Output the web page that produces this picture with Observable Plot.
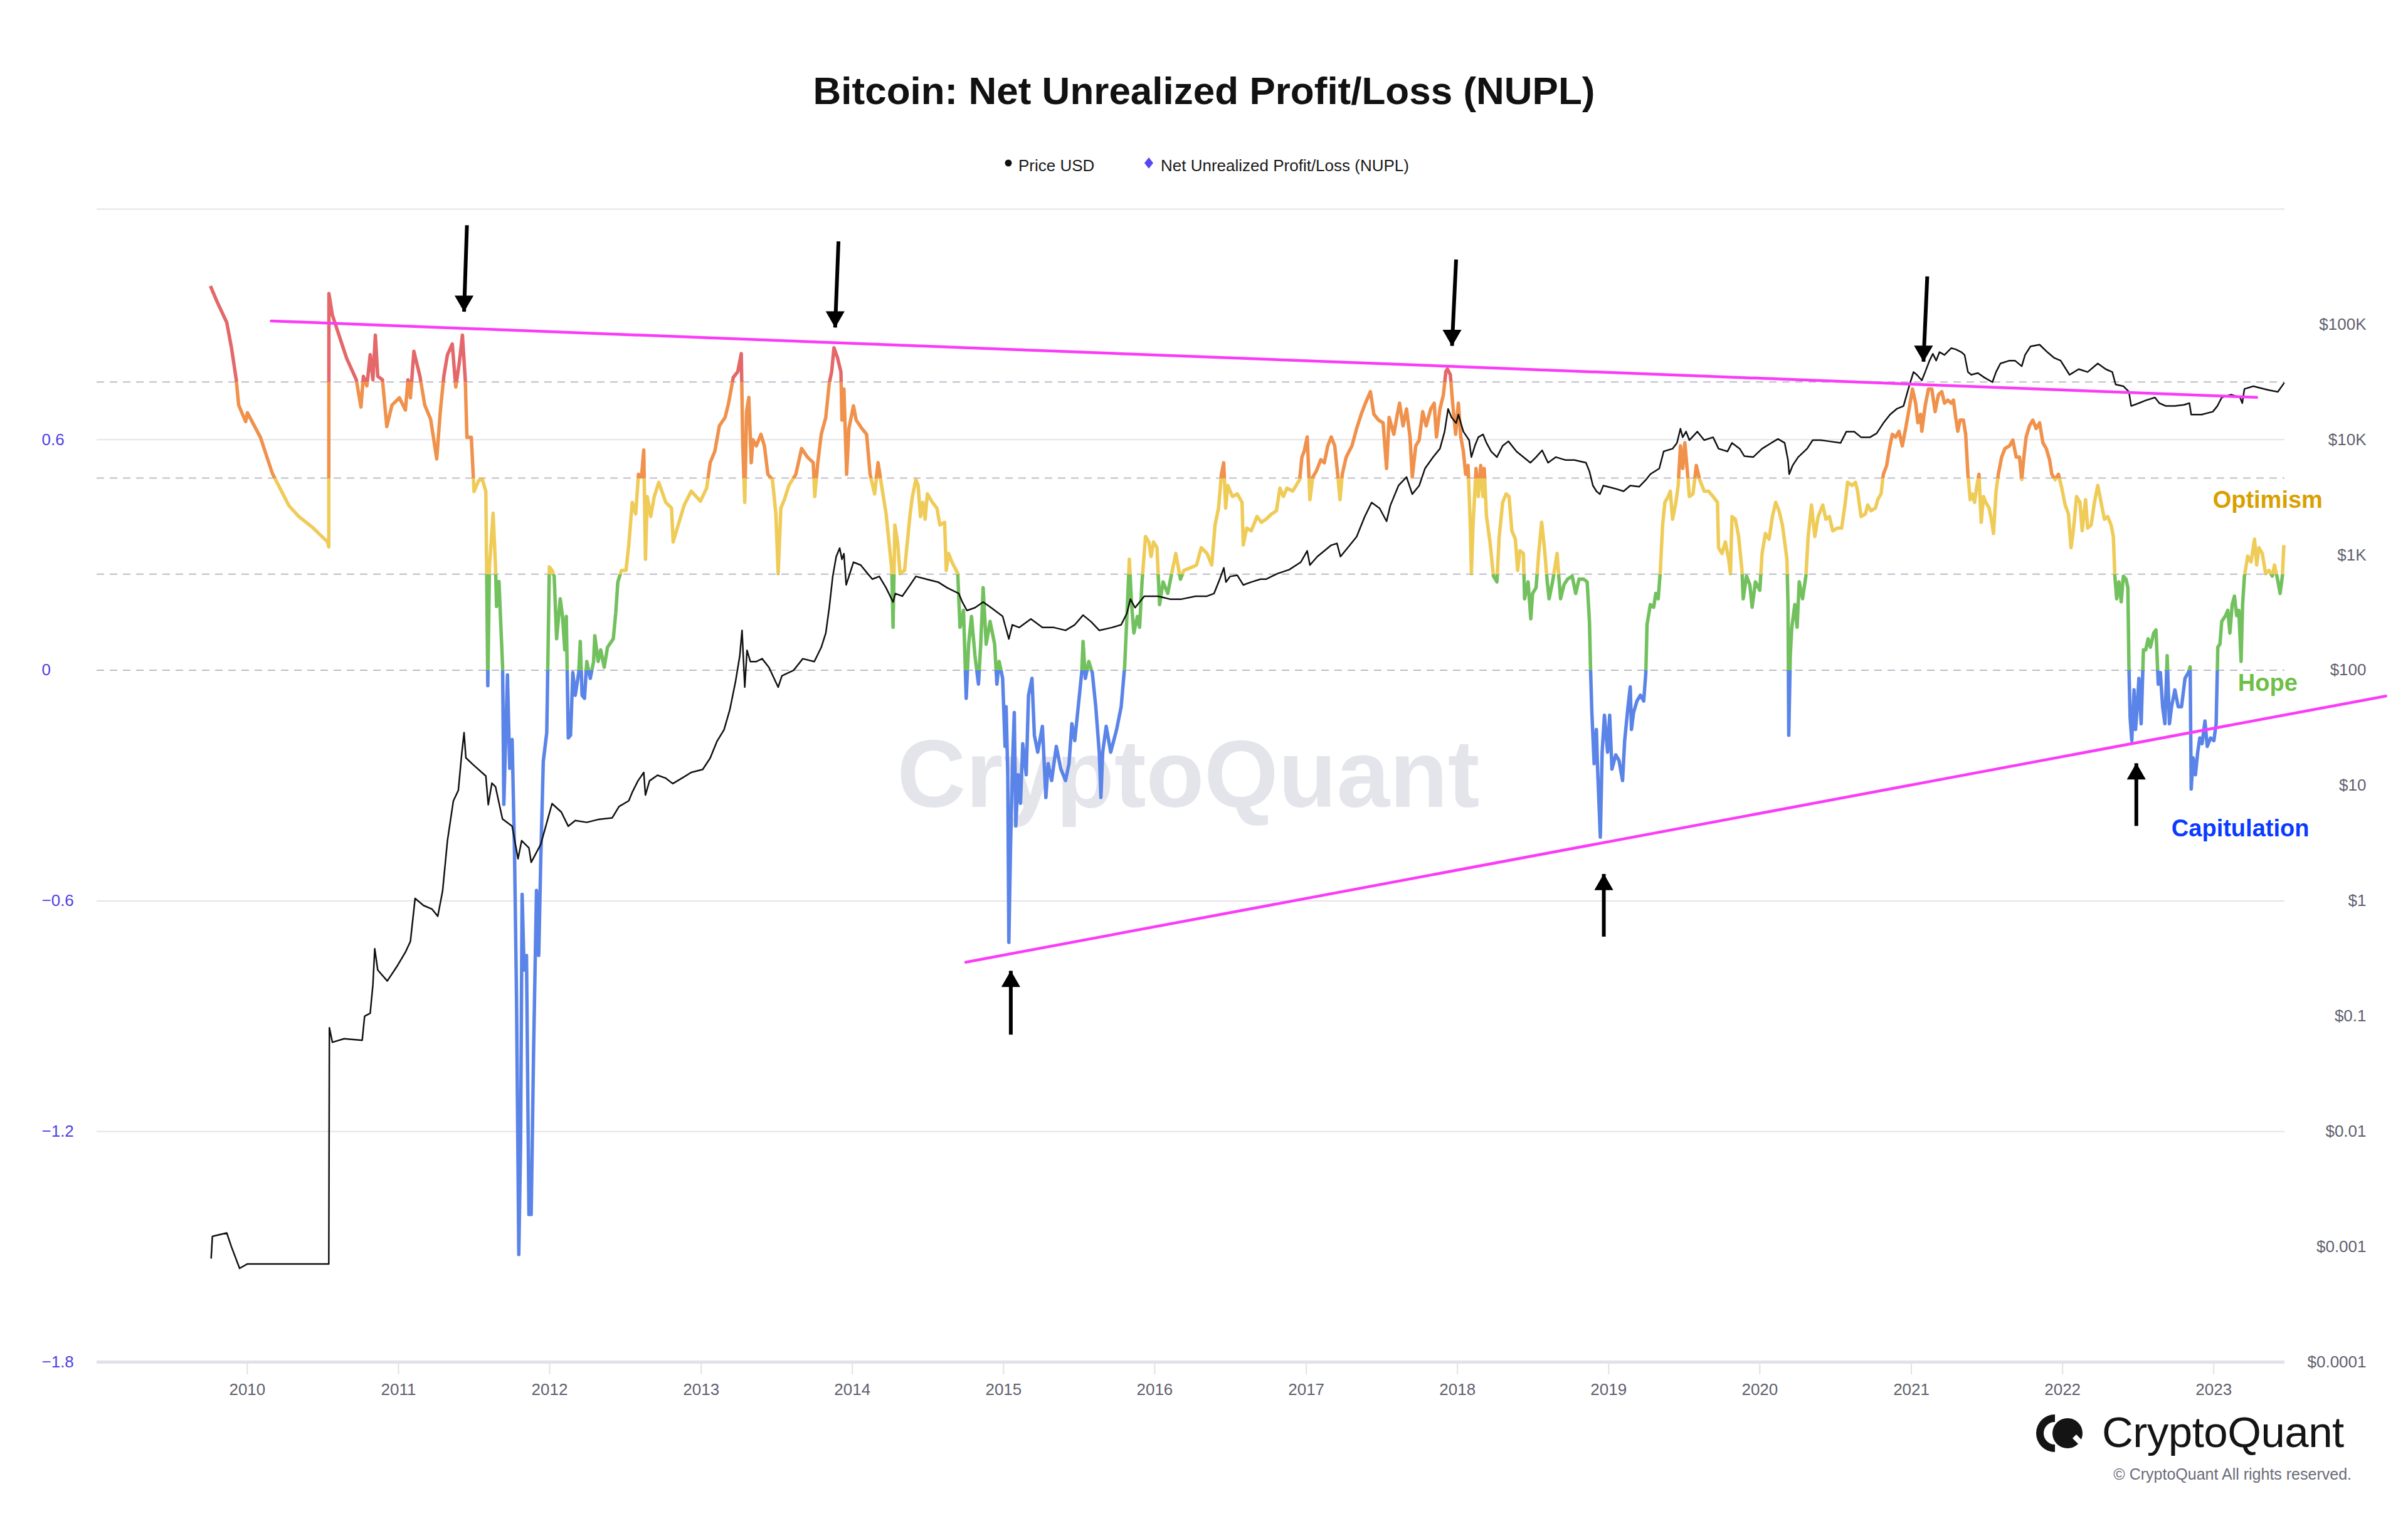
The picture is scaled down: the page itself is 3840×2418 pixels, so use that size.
<!DOCTYPE html>
<html>
<head>
<meta charset="utf-8">
<script src="https://cdn.jsdelivr.net/npm/d3@7"></script>
<script src="https://cdn.jsdelivr.net/npm/@observablehq/plot@0.6"></script>
<style>
html,body{margin:0;padding:0;background:#fff;}
#page{position:relative;width:3840px;height:2418px;overflow:hidden;font-family:"Liberation Sans",Arial,Helvetica,sans-serif;background:#fff;}
#header{position:relative;width:3840px;height:300px;}
#title{position:absolute;left:0;width:3840px;top:114px;text-align:center;font-size:62px;font-weight:700;color:#111;line-height:62px;white-space:nowrap;}
.leg{position:absolute;top:251px;font-size:26px;line-height:26px;color:#1a1a1a;white-space:nowrap;}
.mk{position:absolute;display:block;}
.mk svg{display:block;}
#chart svg{display:block;}
#logo{position:absolute;left:3247px;top:2254px;}
#logotext{position:absolute;left:3352px;top:2245px;font-size:69px;line-height:80px;color:#141414;font-weight:500;letter-spacing:-0.5px;}
#copy{position:absolute;right:90px;top:2338px;font-size:25px;line-height:26px;color:#6b6b78;}
</style>
</head>
<body>
<div id="page">
  <div id="header">
    <title></title>
    <div id="title"></div>
    <span class="mk" style="left:1602px;top:254px;"><svg width="12" height="12"><circle cx="6" cy="6" r="5.5" fill="#111"/></svg></span>
    <span class="leg" id="leg1" style="left:1624px;"></span>
    <span class="mk" style="left:1825px;top:251px;"><svg width="14" height="18"><path d="M7,0 L14,9 L7,18 L0,9 Z" fill="#5a45f0"/></svg></span>
    <span class="leg" id="leg2" style="left:1851px;"></span>
  </div>
  <div id="chart"></div>
  <svg id="logo" width="80" height="64" viewBox="0 0 80 64">
    <path d="M30,2 A30,30 0 0 0 30,62 L30,50 A18,18 0 0 1 30,14 Z" fill="#141414"/>
    <circle cx="50" cy="32" r="24" fill="#141414"/>
    <path d="M58,40 L76,58 L80,50 L64,34 Z" fill="#fff"/>
  </svg>
  <div id="logotext">CryptoQuant</div>
  <div id="copy">© CryptoQuant All rights reserved.</div>
</div>
<script>
// ---------- text ----------
const titleText = "Bitcoin: Net Unrealized Profit/Loss (NUPL)";
const legendLabels = ["Price USD", "Net Unrealized Profit/Loss (NUPL)"];
const watermarkText = ["CryptoQuant"];

// ---------- NUPL series: [decimal year, NUPL] ----------
const nuplSeries = [
[2009.756,1.00],[2009.799,0.96],[2009.864,0.905],[2009.895,0.84],[2009.927,0.756],[2009.943,0.69],[2009.989,0.647],[2010.001,0.67],[2010.087,0.606],[2010.166,0.512],[2010.276,0.428],[2010.341,0.40],[2010.431,0.372],[2010.531,0.334],[2010.539,0.321],[2010.54,0.98],[2010.563,0.924],[2010.61,0.868],[2010.657,0.812],[2010.721,0.756],[2010.752,0.685],[2010.768,0.765],[2010.791,0.74],[2010.813,0.821],[2010.831,0.756],[2010.847,0.872],[2010.863,0.765],[2010.894,0.756],[2010.923,0.634],[2010.957,0.69],
[2011.006,0.709],[2011.046,0.677],[2011.063,0.756],[2011.079,0.709],[2011.102,0.83],[2011.142,0.765],[2011.174,0.69],[2011.213,0.653],[2011.253,0.55],[2011.276,0.67],[2011.30,0.765],[2011.324,0.821],[2011.356,0.849],[2011.379,0.737],[2011.403,0.802],[2011.423,0.872],[2011.442,0.756],[2011.453,0.606],[2011.482,0.606],[2011.50,0.465],[2011.531,0.494],[2011.555,0.497],[2011.578,0.465],[2011.591,-0.04],[2011.602,0.269],[2011.626,0.409],[2011.642,0.269],[2011.649,0.166],[2011.665,0.231],[2011.689,0.007],[2011.697,-0.349],[2011.721,-0.012],[2011.736,-0.255],[2011.752,-0.18],[2011.768,-0.48],[2011.781,-0.854],[2011.796,-1.52],[2011.808,-1.23],[2011.818,-0.583],[2011.831,-0.78],[2011.847,-0.742],[2011.863,-1.416],[2011.878,-1.416],[2011.894,-0.985],[2011.913,-0.573],[2011.928,-0.742],[2011.941,-0.498],[2011.958,-0.237],[2011.981,-0.162],[2011.998,0.269],
[2012.016,0.26],[2012.03,0.245],[2012.046,0.082],[2012.07,0.186],[2012.085,0.14],[2012.10,0.053],[2012.11,0.14],[2012.123,-0.176],[2012.138,-0.169],[2012.153,-0.006],[2012.169,-0.065],[2012.192,-0.006],[2012.202,0.075],[2012.214,-0.065],[2012.23,-0.073],[2012.245,0.023],[2012.268,-0.021],[2012.29,0.023],[2012.298,0.09],[2012.32,0.023],[2012.337,0.053],[2012.36,0.008],[2012.382,0.06],[2012.42,0.082],[2012.436,0.149],[2012.45,0.23],[2012.474,0.26],[2012.504,0.26],[2012.522,0.326],[2012.545,0.437],[2012.568,0.407],[2012.586,0.51],[2012.606,0.503],[2012.621,0.573],[2012.632,0.289],[2012.644,0.452],[2012.667,0.40],[2012.69,0.452],[2012.72,0.489],[2012.766,0.437],[2012.804,0.422],[2012.815,0.334],[2012.842,0.37],[2012.888,0.43],[2012.934,0.466],[2012.995,0.44],
[2013.036,0.474],[2013.059,0.54],[2013.09,0.57],[2013.12,0.636],[2013.158,0.658],[2013.181,0.695],[2013.212,0.762],[2013.242,0.777],[2013.265,0.824],[2013.275,0.584],[2013.288,0.437],[2013.30,0.673],[2013.315,0.71],[2013.331,0.54],[2013.342,0.60],[2013.365,0.584],[2013.395,0.614],[2013.418,0.584],[2013.441,0.51],[2013.471,0.496],[2013.494,0.407],[2013.509,0.252],[2013.527,0.422],[2013.55,0.444],[2013.58,0.481],[2013.626,0.51],[2013.664,0.577],[2013.702,0.555],[2013.741,0.54],[2013.751,0.452],[2013.771,0.54],[2013.794,0.614],[2013.824,0.658],[2013.847,0.747],[2013.863,0.777],[2013.878,0.839],[2013.901,0.814],[2013.924,0.777],[2013.931,0.651],[2013.944,0.732],[2013.962,0.51],[2013.977,0.629],[2014.007,0.688],
[2014.025,0.651],[2014.063,0.629],[2014.094,0.614],[2014.117,0.51],[2014.147,0.459],[2014.17,0.54],[2014.193,0.481],[2014.223,0.407],[2014.246,0.319],[2014.261,0.26],[2014.269,0.112],[2014.281,0.378],[2014.299,0.334],[2014.315,0.252],[2014.345,0.26],[2014.382,0.407],[2014.397,0.452],[2014.42,0.496],[2014.435,0.481],[2014.45,0.40],[2014.466,0.437],[2014.481,0.393],[2014.496,0.459],[2014.529,0.437],[2014.559,0.422],[2014.579,0.378],[2014.61,0.385],[2014.621,0.26],[2014.636,0.304],[2014.658,0.282],[2014.697,0.252],[2014.712,0.112],[2014.735,0.156],[2014.753,-0.073],[2014.769,0.068],[2014.788,0.14],[2014.811,0.038],[2014.834,-0.036],[2014.849,0.068],[2014.865,0.215],[2014.885,0.068],[2014.911,0.127],[2014.941,0.068],[2014.956,-0.036],[2014.971,0.023],[2014.994,-0.021],[2015.01,-0.198],[2015.017,-0.095],
[2015.028,-0.272],[2015.035,-0.708],[2015.046,-0.464],[2015.058,-0.257],[2015.071,-0.11],[2015.081,-0.405],[2015.097,-0.272],[2015.112,-0.346],[2015.127,-0.191],[2015.15,-0.272],[2015.165,-0.065],[2015.188,-0.021],[2015.204,-0.169],[2015.226,-0.213],[2015.257,-0.146],[2015.28,-0.331],[2015.295,-0.243],[2015.318,-0.287],[2015.349,-0.198],[2015.379,-0.257],[2015.41,-0.287],[2015.433,-0.243],[2015.452,-0.139],[2015.471,-0.183],[2015.494,-0.095],[2015.517,-0.006],[2015.526,0.075],[2015.541,-0.021],[2015.564,0.023],[2015.587,-0.006],[2015.61,-0.095],[2015.633,-0.213],[2015.644,-0.331],[2015.656,-0.213],[2015.679,-0.146],[2015.709,-0.213],[2015.748,-0.154],[2015.778,-0.095],[2015.801,0.009],[2015.816,0.14],[2015.832,0.289],[2015.847,0.171],[2015.862,0.097],[2015.885,0.14],[2015.90,0.112],[2015.916,0.23],[2015.939,0.348],[2015.961,0.334],[2015.976,0.296],[2015.992,0.334],[2016.015,0.319],
[2016.032,0.171],[2016.055,0.23],[2016.086,0.20],[2016.116,0.26],[2016.139,0.304],[2016.17,0.237],[2016.192,0.26],[2016.238,0.267],[2016.276,0.274],[2016.307,0.319],[2016.345,0.304],[2016.376,0.274],[2016.398,0.378],[2016.421,0.422],[2016.44,0.51],[2016.455,0.54],[2016.468,0.422],[2016.482,0.481],[2016.513,0.452],[2016.545,0.459],[2016.576,0.437],[2016.584,0.326],[2016.607,0.37],[2016.637,0.363],[2016.675,0.40],[2016.704,0.385],[2016.734,0.393],[2016.772,0.407],[2016.803,0.415],[2016.826,0.474],[2016.849,0.452],[2016.872,0.474],[2016.91,0.466],[2016.956,0.496],[2016.971,0.555],[2016.986,0.57],[2017.006,0.607],[2017.017,0.51],[2017.024,0.444],
[2017.043,0.503],[2017.066,0.518],[2017.096,0.548],[2017.119,0.54],[2017.142,0.584],[2017.165,0.607],[2017.188,0.584],[2017.211,0.496],[2017.223,0.444],[2017.238,0.51],[2017.264,0.555],[2017.302,0.584],[2017.333,0.629],[2017.363,0.666],[2017.391,0.695],[2017.424,0.725],[2017.447,0.666],[2017.478,0.651],[2017.508,0.644],[2017.531,0.525],[2017.548,0.658],[2017.579,0.614],[2017.602,0.666],[2017.617,0.695],[2017.64,0.636],[2017.663,0.68],[2017.686,0.607],[2017.701,0.503],[2017.724,0.584],[2017.747,0.599],[2017.77,0.673],[2017.793,0.636],[2017.823,0.68],[2017.846,0.695],[2017.861,0.607],[2017.884,0.68],[2017.907,0.717],[2017.923,0.777],[2017.933,0.784],[2017.953,0.769],[2017.968,0.695],[2017.988,0.614],[2018.006,0.695],[2018.022,0.607],
[2018.039,0.57],[2018.054,0.51],[2018.07,0.533],[2018.085,0.378],[2018.092,0.252],[2018.103,0.378],[2018.123,0.525],[2018.138,0.452],[2018.154,0.533],[2018.169,0.452],[2018.177,0.525],[2018.192,0.40],[2018.215,0.334],[2018.238,0.245],[2018.261,0.23],[2018.276,0.348],[2018.299,0.437],[2018.322,0.459],[2018.341,0.452],[2018.36,0.363],[2018.383,0.341],[2018.398,0.26],[2018.413,0.311],[2018.436,0.304],[2018.444,0.186],[2018.467,0.23],[2018.485,0.134],[2018.497,0.20],[2018.52,0.215],[2018.537,0.304],[2018.557,0.385],[2018.575,0.319],[2018.594,0.23],[2018.606,0.186],[2018.629,0.23],[2018.644,0.267],[2018.659,0.304],[2018.67,0.245],[2018.682,0.186],[2018.705,0.223],[2018.728,0.237],[2018.759,0.245],[2018.782,0.20],[2018.804,0.237],[2018.835,0.237],[2018.858,0.23],[2018.873,0.127],[2018.881,-0.006],[2018.889,-0.11],[2018.904,-0.243],[2018.919,-0.154],[2018.927,-0.257],[2018.945,-0.434],[2018.957,-0.213],[2018.972,-0.117],[2018.993,-0.213],[2019.007,-0.117],[2019.022,-0.257],
[2019.047,-0.22],[2019.069,-0.235],[2019.092,-0.287],[2019.106,-0.183],[2019.128,-0.095],[2019.143,-0.043],[2019.151,-0.154],[2019.165,-0.11],[2019.187,-0.08],[2019.21,-0.065],[2019.232,-0.08],[2019.246,-0.006],[2019.254,0.119],[2019.276,0.171],[2019.298,0.164],[2019.312,0.20],[2019.328,0.186],[2019.342,0.26],[2019.357,0.378],[2019.372,0.437],[2019.394,0.452],[2019.408,0.466],[2019.423,0.393],[2019.445,0.437],[2019.46,0.481],[2019.475,0.584],[2019.49,0.525],[2019.504,0.592],[2019.519,0.525],[2019.534,0.452],[2019.558,0.459],[2019.58,0.533],[2019.602,0.496],[2019.632,0.466],[2019.661,0.466],[2019.691,0.452],[2019.72,0.437],[2019.727,0.319],[2019.75,0.304],[2019.772,0.334],[2019.794,0.289],[2019.806,0.252],[2019.816,0.40],[2019.838,0.393],[2019.86,0.348],[2019.882,0.26],[2019.89,0.186],[2019.912,0.245],[2019.934,0.223],[2019.949,0.164],[2019.971,0.23],[2020.0,0.208],[2020.015,0.304],[2020.037,0.356],
[2020.061,0.341],[2020.083,0.40],[2020.105,0.437],[2020.127,0.415],[2020.149,0.378],[2020.164,0.334],[2020.179,0.289],[2020.186,0.171],[2020.191,-0.169],[2020.201,0.038],[2020.211,0.112],[2020.231,0.171],[2020.246,0.112],[2020.26,0.23],[2020.282,0.186],[2020.304,0.245],[2020.319,0.348],[2020.341,0.43],[2020.363,0.348],[2020.385,0.40],[2020.415,0.43],[2020.436,0.393],[2020.459,0.40],[2020.481,0.363],[2020.511,0.37],[2020.54,0.37],[2020.564,0.437],[2020.579,0.489],[2020.608,0.481],[2020.631,0.489],[2020.645,0.466],[2020.668,0.40],[2020.697,0.407],[2020.712,0.43],[2020.734,0.415],[2020.763,0.422],[2020.778,0.444],[2020.80,0.459],[2020.815,0.51],[2020.837,0.533],[2020.852,0.57],[2020.874,0.614],[2020.896,0.607],[2020.918,0.622],[2020.94,0.584],[2020.962,0.629],[2020.985,0.68],[2021.007,0.732],[2021.028,0.695],[2021.043,0.644],
[2021.061,0.666],[2021.069,0.622],[2021.091,0.688],[2021.113,0.732],[2021.135,0.732],[2021.157,0.673],[2021.179,0.717],[2021.201,0.725],[2021.219,0.695],[2021.241,0.703],[2021.263,0.695],[2021.278,0.703],[2021.293,0.658],[2021.307,0.622],[2021.322,0.651],[2021.344,0.651],[2021.359,0.614],[2021.374,0.51],[2021.389,0.444],[2021.403,0.459],[2021.418,0.437],[2021.433,0.481],[2021.447,0.51],[2021.462,0.385],[2021.477,0.452],[2021.492,0.437],[2021.514,0.422],[2021.529,0.393],[2021.543,0.356],[2021.56,0.466],[2021.575,0.51],[2021.597,0.555],[2021.619,0.577],[2021.649,0.584],[2021.671,0.599],[2021.693,0.555],[2021.715,0.555],[2021.73,0.496],[2021.744,0.555],[2021.759,0.607],[2021.781,0.636],[2021.803,0.651],[2021.825,0.629],[2021.848,0.644],[2021.87,0.592],[2021.892,0.577],[2021.914,0.548],[2021.929,0.51],[2021.951,0.496],[2021.973,0.51],[2021.995,0.474],[2022.017,0.43],[2022.039,0.407],
[2022.056,0.319],[2022.071,0.363],[2022.093,0.452],[2022.115,0.437],[2022.13,0.363],[2022.152,0.444],[2022.166,0.37],[2022.189,0.378],[2022.211,0.437],[2022.233,0.481],[2022.255,0.437],[2022.277,0.393],[2022.299,0.40],[2022.321,0.378],[2022.336,0.348],[2022.346,0.245],[2022.358,0.186],[2022.373,0.23],[2022.388,0.178],[2022.402,0.245],[2022.42,0.237],[2022.432,0.215],[2022.439,0.009],[2022.447,-0.124],[2022.458,-0.183],[2022.473,-0.051],[2022.483,-0.154],[2022.494,-0.095],[2022.505,-0.021],[2022.52,-0.139],[2022.535,0.053],[2022.55,0.053],[2022.566,0.082],[2022.581,0.06],[2022.603,0.097],[2022.618,0.105],[2022.633,-0.036],[2022.647,-0.006],[2022.662,-0.095],[2022.677,-0.139],[2022.692,0.038],[2022.707,-0.139],[2022.721,-0.095],[2022.743,-0.051],[2022.765,-0.095],[2022.787,-0.095],[2022.81,-0.021],[2022.832,-0.006],[2022.844,0.009],[2022.851,-0.309],[2022.864,-0.228],[2022.879,-0.272],[2022.894,-0.213],[2022.908,-0.176],[2022.923,-0.191],[2022.942,-0.132],[2022.957,-0.198],[2022.979,-0.176],[2023.001,-0.183],[2023.016,-0.139],[2023.027,0.06],[2023.041,0.068],[2023.053,0.127],
[2023.078,0.142],[2023.093,0.156],[2023.107,0.097],[2023.122,0.171],[2023.137,0.193],[2023.152,0.142],[2023.166,0.156],[2023.181,0.023],[2023.191,0.171],[2023.203,0.245],[2023.225,0.297],[2023.247,0.282],[2023.27,0.341],[2023.284,0.274],[2023.299,0.319],[2023.321,0.304],[2023.343,0.252],[2023.365,0.26],[2023.387,0.245],[2023.402,0.274],[2023.422,0.237],[2023.439,0.20],[2023.454,0.245],[2023.464,0.326]
];

// ---------- Price series: [decimal year, price USD] ----------
const priceSeries = [
[2009.761,0.0008],[2009.769,0.00123],[2009.864,0.00132],[2009.895,0.001],[2009.949,0.00065],[2010.001,0.00071],[2010.539,0.00071],[2010.543,0.0794],[2010.563,0.0594],[2010.641,0.0638],[2010.76,0.0617],[2010.776,0.1],[2010.813,0.106],[2010.831,0.188],[2010.843,0.385],[2010.863,0.251],[2010.926,0.202],[2010.989,0.269],
[2011.046,0.359],[2011.079,0.445],[2011.11,1.05],[2011.166,0.912],[2011.221,0.851],[2011.26,0.736],[2011.292,1.22],[2011.324,3.33],[2011.363,7.35],[2011.396,9.1],[2011.418,18.6],[2011.434,28.8],[2011.446,17.4],[2011.496,15.1],[2011.578,12.1],[2011.594,6.82],[2011.618,10.5],[2011.642,9.77],[2011.688,5.13],[2011.752,4.44],[2011.791,2.32],[2011.815,3.33],[2011.863,2.88],[2011.878,2.16],[2011.941,3.09],
[2012.016,6.98],[2012.077,5.89],[2012.123,4.44],[2012.169,4.97],[2012.245,4.8],[2012.32,5.08],[2012.413,5.25],[2012.458,6.59],[2012.522,7.38],[2012.545,8.75],[2012.583,11.0],[2012.621,13.0],[2012.632,8.28],[2012.659,11.0],[2012.712,12.3],[2012.766,11.6],[2012.812,10.4],[2012.873,11.6],[2012.934,13.0],[2013.01,13.8],
[2013.059,17.3],[2013.105,24.3],[2013.151,30.5],[2013.189,45.4],[2013.227,80],[2013.255,133],[2013.27,222],[2013.28,119],[2013.288,71.4],[2013.303,149],[2013.325,119],[2013.365,119],[2013.403,126],[2013.448,106],[2013.509,71.4],[2013.534,89.5],[2013.611,100],[2013.672,126],[2013.748,119],[2013.794,158],[2013.824,210],[2013.847,349],[2013.87,652],[2013.893,968],[2013.916,1148],[2013.931,916],[2013.944,1026],[2013.959,550],[2013.977,652],[2014.007,865],
[2014.055,818],[2014.101,690],[2014.132,617],[2014.178,652],[2014.223,519],[2014.269,391],[2014.284,463],[2014.33,439],[2014.382,550],[2014.42,652],[2014.489,617],[2014.567,582],[2014.628,519],[2014.704,463],[2014.727,391],[2014.758,330],[2014.811,349],[2014.865,391],[2014.918,349],[2014.994,294],
[2015.035,187],[2015.058,248],[2015.104,235],[2015.181,279],[2015.257,235],[2015.333,235],[2015.41,222],[2015.471,248],[2015.526,301],[2015.58,263],[2015.633,222],[2015.717,235],[2015.778,248],[2015.816,312],[2015.839,414],[2015.87,349],[2015.931,439],[2016.022,439],
[2016.101,414],[2016.177,414],[2016.269,439],[2016.345,439],[2016.391,463],[2016.429,617],[2016.456,773],[2016.47,582],[2016.498,652],[2016.545,667],[2016.584,550],[2016.637,582],[2016.698,617],[2016.734,617],[2016.81,690],[2016.887,746],[2016.963,865],[2017.006,1086],[2017.024,818],
[2017.073,968],[2017.165,1216],[2017.203,1259],[2017.226,968],[2017.272,1148],[2017.333,1442],[2017.386,2143],[2017.432,2851],[2017.485,2541],[2017.531,1959],[2017.556,2692],[2017.61,4000],[2017.663,4742],[2017.701,3373],[2017.747,4000],[2017.785,5623],[2017.839,7063],[2017.884,8356],[2017.915,11750],[2017.938,18490],[2017.961,15600],[2017.991,13930],[2018.006,16520],
[2018.039,11750],[2018.077,9908],[2018.092,7063],[2018.115,8851],[2018.138,10500],[2018.169,11120],[2018.192,9376],[2018.223,7907],[2018.261,7063],[2018.299,8851],[2018.337,9683],[2018.39,7907],[2018.436,7063],[2018.482,6310],[2018.52,7063],[2018.56,8091],[2018.599,6310],[2018.651,7063],[2018.713,6668],[2018.774,6668],[2018.85,6310],[2018.873,5309],[2018.896,4000],[2018.919,3573],[2018.942,3373],[2018.965,4000],[2019.037,3784],
[2019.099,3573],[2019.143,4000],[2019.202,3908],[2019.246,4477],[2019.276,5023],[2019.335,5623],[2019.364,7907],[2019.423,8356],[2019.452,9376],[2019.475,12450],[2019.49,10500],[2019.512,11750],[2019.534,9908],[2019.587,11750],[2019.632,9908],[2019.691,10500],[2019.727,8356],[2019.786,7907],[2019.816,9376],[2019.867,8356],[2019.897,7211],[2019.956,7063],[2020.015,8356],
[2020.076,9376],[2020.12,10140],[2020.164,9376],[2020.186,6668],[2020.194,5023],[2020.216,5957],[2020.253,7063],[2020.312,8356],[2020.349,9908],[2020.40,9908],[2020.459,9683],[2020.533,9376],[2020.571,11750],[2020.623,11750],[2020.668,10500],[2020.727,10500],[2020.771,11350],[2020.815,13930],[2020.859,16520],[2020.903,18490],[2020.948,19590],[2020.985,29110],[2021.014,38640],[2021.036,36560],
[2021.069,32660],[2021.091,38640],[2021.12,48530],[2021.142,55590],[2021.164,48530],[2021.186,57540],[2021.219,54330],[2021.263,62230],[2021.293,60810],[2021.33,57540],[2021.352,54330],[2021.374,38640],[2021.396,36560],[2021.44,37840],[2021.484,34510],[2021.536,31550],[2021.56,38640],[2021.589,45810],[2021.649,48530],[2021.685,48530],[2021.73,43350],[2021.752,54330],[2021.788,64420],[2021.848,66680],[2021.899,57540],[2021.943,51400],[2021.987,48530],[2022.046,36560],
[2022.107,40930],[2022.166,38640],[2022.233,45810],[2022.285,40930],[2022.329,38640],[2022.351,30130],[2022.402,29110],[2022.439,26000],[2022.454,19590],[2022.505,20750],[2022.55,21930],[2022.611,23230],[2022.64,20750],[2022.684,19590],[2022.743,19590],[2022.802,20050],[2022.839,20750],[2022.851,16520],[2022.92,16520],[2022.994,17500],[2023.024,19590],[2023.053,23230],
[2023.115,24600],[2023.174,23230],[2023.189,20750],[2023.203,27540],[2023.262,29110],[2023.306,28120],[2023.365,26920],[2023.424,26000],[2023.464,30830]
];

// ---------- axes ----------
const xDomainYears = [2009.005, 2023.470];
const xTickYears = [2010,2011,2012,2013,2014,2015,2016,2017,2018,2019,2020,2021,2022,2023];
const nuplDomain = [-1.8, 1.2];
const nuplTicks = [0.6, 0, -0.6, -1.2, -1.8];
const gridSolid = [1.2, 0.6, -0.6, -1.2];
const zoneThresholds = [0.75, 0.5, 0.25, 0];
const zoneColors = ["#E4676A", "#F0914C", "#EFCB58", "#72C15E", "#5B84E8"];
const priceTicks = [0.0001, 0.001, 0.01, 0.1, 1, 10, 100, 1000, 10000, 100000];
const priceTickLabels = ["$0.0001","$0.001","$0.01","$0.1","$1","$10","$100","$1K","$10K","$100K"];
const priceLogMin = -4;      // $0.0001 sits on the NUPL axis minimum
const nuplPerDecade = 0.3;   // one price decade = 0.3 NUPL units

// ---------- annotations ----------
const trendTop = [[2010.158, 0.909], [2023.284, 0.71]];
const trendBottom = [[2014.75, -0.7595], [2024.138, -0.067]];
const arrowsDown = [
  {x1: 2011.453, y1: 1.158, x2: 2011.434, y2: 0.933},
  {x1: 2013.908, y1: 1.116, x2: 2013.886, y2: 0.892},
  {x1: 2017.991, y1: 1.069, x2: 2017.964, y2: 0.844},
  {x1: 2021.105, y1: 1.025, x2: 2021.080, y2: 0.803}
];
const arrowsUp = [
  {x1: 2015.048, y1: -0.948, x2: 2015.048, y2: -0.782},
  {x1: 2018.968, y1: -0.693, x2: 2018.968, y2: -0.530},
  {x1: 2022.488, y1: -0.405, x2: 2022.488, y2: -0.242}
];
const zoneLabels = [
  {year: 2023.357, value: 0.442, label: "Optimism", color: "#D9A000"},
  {year: 2023.357, value: -0.034, label: "Hope", color: "#6DBF45"},
  {year: 2023.176, value: -0.413, label: "Capitulation", color: "#0A3BFF"}
];

// ---------- helpers ----------
function yd(fy) {
  const y = Math.floor(fy);
  const t0 = Date.UTC(y, 0, 1), t1 = Date.UTC(y + 1, 0, 1);
  return new Date(t0 + (fy - y) * (t1 - t0));
}
const priceToY = p => nuplDomain[0] + (Math.log10(p) - priceLogMin) * nuplPerDecade;
const priceLabelByY = new Map(priceTicks.map((p, i) => [priceToY(p).toFixed(6), priceTickLabels[i]]));

document.title = titleText;
document.getElementById("title").textContent = titleText;
document.getElementById("leg1").textContent = legendLabels[0];
document.getElementById("leg2").textContent = legendLabels[1];

const W = 3840, H = 2118;
const font = "Liberation Sans, Arial, Helvetica, sans-serif";

const chart = Plot.plot({
  width: W,
  height: H,
  marginLeft: 154,
  marginRight: 197,
  marginTop: 33,
  marginBottom: 246,
  style: {fontFamily: font, fontSize: "26px", background: "#fff", color: "#333", overflow: "visible"},
  x: {type: "utc", domain: xDomainYears.map(yd)},
  y: {domain: nuplDomain},
  color: {type: "identity"},
  marks: [
    Plot.text(watermarkText, {frameAnchor: "middle", text: d => d, dx: -4, dy: -15, fontSize: 152, fontWeight: 700, fill: "#E4E4EB", fontFamily: font}),
    Plot.ruleY(gridSolid, {stroke: "#E4E4EA", strokeWidth: 2}),
    Plot.ruleY(zoneThresholds, {stroke: "#BCBCCA", strokeWidth: 2, strokeDasharray: "12,9"}),
    Plot.ruleY([nuplDomain[0]], {stroke: "#E1E1EB", strokeWidth: 5}),
    Plot.axisX(xTickYears.map(y => yd(y)), {anchor: "bottom", tickSize: 20, tickPadding: 14, stroke: "#E1E1E8", strokeWidth: 2, fill: "#5f5f6e", fontSize: 26, tickFormat: "%Y", label: null}),
    Plot.axisY(nuplTicks, {anchor: "left", tickSize: 0, tickPadding: 0, textAnchor: "start", dx: -88, fill: "#4f3fe6", fontSize: 26, tickFormat: d3.format(""), label: null}),
    Plot.axisY(priceTicks.map(priceToY), {anchor: "right", tickSize: 0, tickPadding: 0, textAnchor: "end", dx: 130, fill: "#5f5f6e", fontSize: 26, tickFormat: d => priceLabelByY.get(d.toFixed(6)), label: null}),
    Plot.line(nuplSeries, {x: d => yd(d[0]), y: d => d[1], stroke: "url(#nuplZones)", strokeWidth: 5.5, strokeLinejoin: "round", strokeLinecap: "butt"}),
    Plot.line(priceSeries, {x: d => yd(d[0]), y: d => priceToY(d[1]), stroke: "#111", strokeWidth: 2.5, strokeLinejoin: "round"}),
    Plot.line(trendTop, {x: d => yd(d[0]), y: d => d[1], stroke: "#FA3CF8", strokeWidth: 4.5}),
    Plot.line(trendBottom, {x: d => yd(d[0]), y: d => d[1], stroke: "#FA3CF8", strokeWidth: 4.5}),
    Plot.link(arrowsDown, {x1: d => yd(d.x1), y1: d => d.y1, x2: d => yd(d.x2), y2: d => d.y2, stroke: "#000", strokeWidth: 6}),
    Plot.dot(arrowsDown, {x: d => yd(d.x2), y: d => d.y2, symbol: "triangle", r: 11.2, fill: "#000", stroke: "none", rotate: 180, dy: -17}),
    Plot.link(arrowsUp, {x1: d => yd(d.x1), y1: d => d.y1, x2: d => yd(d.x2), y2: d => d.y2, stroke: "#000", strokeWidth: 6}),
    Plot.dot(arrowsUp, {x: d => yd(d.x2), y: d => d.y2, symbol: "triangle", r: 11.2, fill: "#000", stroke: "none", dy: 17}),
    Plot.text(zoneLabels, {x: d => yd(d.year), y: d => d.value, text: d => d.label, fill: d => d.color, fontSize: 38, fontWeight: 700, fontFamily: font})
  ]
});

// zone gradient for the NUPL line, positioned with the plot's own y scale
const yScale = chart.scale("y");
const defs = d3.select(chart).insert("defs", ":first-child");
const grad = defs.append("linearGradient")
  .attr("id", "nuplZones")
  .attr("gradientUnits", "userSpaceOnUse")
  .attr("x1", 0).attr("y1", 0).attr("x2", 0).attr("y2", H);
let prev = 0;
zoneColors.forEach((c, i) => {
  const end = i < zoneThresholds.length ? yScale.apply(zoneThresholds[i]) / H : 1;
  grad.append("stop").attr("offset", prev).attr("stop-color", c);
  grad.append("stop").attr("offset", end).attr("stop-color", c);
  prev = end;
});

document.getElementById("chart").appendChild(chart);
</script>
</body>
</html>
